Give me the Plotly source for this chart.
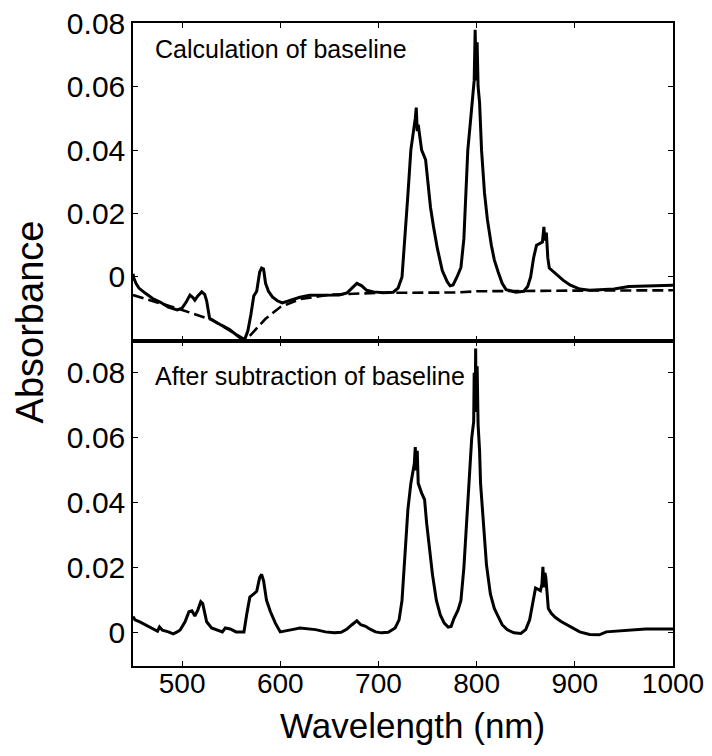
import plotly.graph_objects as go
from plotly.subplots import make_subplots

# top panel: measured spectrum (solid) and fitted baseline (dashed)
wl_raw = [450, 451, 453, 456, 462, 470, 478, 486, 495, 500, 504, 508, 511, 513, 516, 520, 523, 525,
          528, 533, 540, 548, 555, 560, 564, 567, 570, 573, 576, 579, 581, 583, 585, 588, 592, 597,
          602, 610, 620, 630, 645, 660, 668, 673, 678, 683, 688, 695, 705, 715, 720, 724, 727, 730,
          733, 736, 737.5, 738.5, 739.5, 740.5, 744, 748, 750, 753, 756, 760, 765, 770, 773, 776,
          780, 784, 787, 789, 791, 794, 796, 797.5, 798.5, 799.5, 800.5, 801.5, 803, 805, 808, 811,
          815, 818, 822, 826, 830, 840, 848, 852, 855, 858, 861, 865, 867, 868.5, 869.5, 871, 872.5,
          874, 880, 888, 895, 905, 915, 925, 940, 955, 970, 985, 1000]
abs_raw = [0.0010, -0.0005, -0.0020, -0.0035, -0.0050, -0.0068, -0.0080, -0.0095, -0.0104, -0.0098,
           -0.0080, -0.0057, -0.0065, -0.0073, -0.0060, -0.0047, -0.0055, -0.0075, -0.0130, -0.0140,
           -0.0152, -0.0165, -0.0182, -0.0194, -0.0195, -0.0170, -0.0120, -0.0060, -0.0045, 0.0015,
           0.0028, 0.0025, -0.0020, -0.0045, -0.0063, -0.0075, -0.0082, -0.0075, -0.0064, -0.0058,
           -0.0058, -0.0057, -0.0050, -0.0035, -0.0020, -0.0028, -0.0042, -0.0047, -0.0050, -0.0048,
           -0.0035, 0.0000, 0.0120, 0.0260, 0.0400, 0.0460, 0.0500, 0.0534, 0.0460, 0.0480, 0.0400,
           0.0370, 0.0300, 0.0220, 0.0160, 0.0090, 0.0020, -0.0015, -0.0028, -0.0025, 0.0000, 0.0030,
           0.0120, 0.0250, 0.0400, 0.0500, 0.0580, 0.0620, 0.0780, 0.0620, 0.0740, 0.0600, 0.0550,
           0.0400, 0.0265, 0.0180, 0.0100, 0.0054, 0.0015, -0.0020, -0.0040, -0.0048, -0.0045,
           -0.0030, 0.0000, 0.0060, 0.0100, 0.0105, 0.0110, 0.0158, 0.0115, 0.0140, 0.0060, 0.0028,
           0.0012, -0.0010, -0.0025, -0.0038, -0.0042, -0.0040, -0.0038, -0.0030, -0.0028, -0.0026,
           -0.0026]

wl_base = [450, 475, 500, 530, 555, 565, 575, 585, 600, 620, 650, 700, 780, 800, 900, 1000]
abs_base = [-0.0057, -0.0080, -0.0104, -0.0135, -0.0180, -0.0199, -0.0165, -0.0132, -0.0095,
            -0.0070, -0.0056, -0.0050, -0.0049, -0.0045, -0.0043, -0.0042]

# bottom panel: spectrum after baseline subtraction
wl_corr = [450, 452, 457, 463, 468, 472, 475, 477, 480, 486, 491, 495, 498, 503, 507, 510, 513, 516,
           519, 521, 523, 525, 530, 536, 541, 544, 549, 555, 563, 566, 569, 573, 576, 579, 581, 583,
           586, 590, 595, 600, 605, 612, 620, 628, 636, 646, 655, 662, 668, 673, 678, 682, 687, 691,
           697, 703, 710, 717, 721, 724, 727, 730, 733, 735, 736.5, 737.5, 738.5, 739.5, 740.5, 744,
           747, 749, 752, 755, 759, 763, 767, 771, 774, 777, 781, 784, 787, 789, 792, 795, 797, 797.5,
           798.5, 799, 799.5, 800.5, 801.5, 803, 804, 807, 810, 814, 818, 822, 826, 831, 838, 845,
           850, 854, 857, 860, 862, 865, 866.5, 867.5, 868.5, 869.5, 870.5, 872, 873, 876, 880, 886,
           892, 898, 905, 915, 925, 932, 940, 950, 960, 972, 985, 1000]
abs_corr = [0.0050, 0.0040, 0.0034, 0.0025, 0.0018, 0.0012, 0.0005, 0.0018, 0.0008, 0.0003, -0.0003,
            0.0003, 0.0009, 0.0034, 0.0065, 0.0068, 0.0052, 0.0070, 0.0096, 0.0090, 0.0060, 0.0034,
            0.0015, 0.0008, 0.0003, 0.0015, 0.0012, 0.0003, 0.0003, 0.0060, 0.0110, 0.0120, 0.0128,
            0.0170, 0.0180, 0.0160, 0.0100, 0.0065, 0.0030, 0.0003, 0.0005, 0.0010, 0.0015, 0.0013,
            0.0010, 0.0003, 0.0000, 0.0002, 0.0012, 0.0025, 0.0037, 0.0025, 0.0020, 0.0012, 0.0003,
            0.0000, 0.0002, 0.0015, 0.0040, 0.0100, 0.0250, 0.0380, 0.0460, 0.0490, 0.0520, 0.0572,
            0.0500, 0.0560, 0.0460, 0.0430, 0.0410, 0.0340, 0.0260, 0.0180, 0.0100, 0.0055, 0.0030,
            0.0018, 0.0020, 0.0045, 0.0070, 0.0100, 0.0200, 0.0300, 0.0460, 0.0600, 0.0650, 0.0800,
            0.0680, 0.0875, 0.0700, 0.0820, 0.0640, 0.0560, 0.0460, 0.0320, 0.0210, 0.0120, 0.0075,
            0.0050, 0.0025, 0.0010, 0.0000, -0.0002, 0.0010, 0.0040, 0.0090, 0.0138, 0.0135, 0.0130,
            0.0150, 0.0203, 0.0140, 0.0185, 0.0170, 0.0110, 0.0075, 0.0060, 0.0048, 0.0035, 0.0025,
            0.0015, 0.0003, -0.0005, -0.0006, 0.0003, 0.0005, 0.0006, 0.0009, 0.0012, 0.0012, 0.0012]

y_ticks = [0, 0.02, 0.04, 0.06, 0.08]
y_ticktext = ["0", "0.02", "0.04", "0.06", "0.08"]
x_ticks = [500, 600, 700, 800, 900, 1000]

FONT = "Arial, Liberation Sans, Helvetica, sans-serif"

fig = make_subplots(rows=2, cols=1, shared_xaxes=True, vertical_spacing=0,
                    row_heights=[0.4946, 0.5054])

fig.add_trace(go.Scatter(x=wl_raw, y=abs_raw, mode="lines",
                         line=dict(color="black", width=3)), row=1, col=1)
fig.add_trace(go.Scatter(x=wl_base, y=abs_base, mode="lines",
                         line=dict(color="black", width=2.6, dash="11px,5px")), row=1, col=1)
fig.add_trace(go.Scatter(x=wl_corr, y=abs_corr, mode="lines",
                         line=dict(color="black", width=3)), row=2, col=1)

axis_style = dict(showline=True, linecolor="black", linewidth=1.5, mirror="ticks",
                  ticks="inside", ticklen=5, tickwidth=1.2, tickcolor="black",
                  showgrid=False, zeroline=False, automargin=False,
                  ticklabeloverflow="allow",
                  tickfont=dict(family=FONT, size=30, color="black"))

fig.update_xaxes(range=[450, 1000], tickvals=x_ticks, **axis_style)
fig.update_xaxes(showticklabels=False, row=1, col=1)
# slightly smaller x labels so "1000" stays inside the page
fig.update_xaxes(ticklabelstandoff=-8, tickfont_size=28, row=2, col=1)
fig.update_yaxes(tickvals=y_ticks, ticktext=y_ticktext, **axis_style)
fig.update_yaxes(range=[-0.0202, 0.0801], row=1, col=1)
fig.update_yaxes(range=[-0.0102, 0.0898], row=2, col=1)

fig.add_annotation(text="Calculation of baseline", xref="x domain", yref="y domain",
                   x=0.037, y=0.918, xanchor="left", yanchor="middle", showarrow=False,
                   font=dict(family=FONT, size=25, color="black"))
fig.add_annotation(text="After subtraction of baseline", xref="x2 domain", yref="y2 domain",
                   x=0.037, y=0.892, xanchor="left", yanchor="middle", showarrow=False,
                   font=dict(family=FONT, size=25, color="black"))
fig.add_annotation(text="Absorbance", xref="paper", yref="paper", x=-0.19, y=0.535,
                   xanchor="center", yanchor="middle", textangle=-90, showarrow=False,
                   font=dict(family=FONT, size=38, color="black"))
fig.add_annotation(text="Wavelength (nm)", xref="paper", yref="paper", x=0.517, y=-0.092,
                   xanchor="center", yanchor="middle", showarrow=False,
                   font=dict(family=FONT, size=35, color="black"))

# the page body adds 8px on every side, so the figure is 16px smaller than the window
fig.update_layout(width=696, height=740, showlegend=False,
                  margin=dict(l=125, r=31, t=15, b=82),
                  plot_bgcolor="white", paper_bgcolor="white")

fig.write_html("out.html")
